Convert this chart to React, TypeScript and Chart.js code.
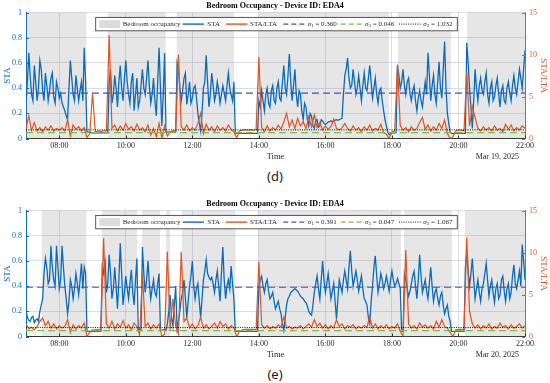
import React, { useEffect, useRef } from "react";
import { Chart, registerables } from "chart.js";

Chart.register(...registerables);

// ---------- data ----------
const START_HOUR = 7;
const END_HOUR = 22;
const STEP_MIN = 5;
const X_TICKS = [8, 10, 12, 14, 16, 18, 20, 22];
const STA_TICKS = [0, 0.2, 0.4, 0.6, 0.8, 1];
const RATIO_TICKS = [0, 5, 10, 15];

const TITLE = "Bedroom Occupancy - Device ID: EDA4";
const DATE_D = "Mar 19, 2025";
const DATE_E = "Mar 20, 2025";

// Panel (d): STA samples on the 5-minute marks, 07:00 .. 22:00
const staD = [
  0.28, 0.68, 0.35, 0.58, 0.30, 0.62, 0.38, 0.52, 0.30, 0.48, 0.33, 0.45,
  0.32, 0.28, 0.22, 0.15, 0.62, 0.35, 0.50, 0.30, 0.45, 0.72, 0.05, 0.05,
  0.045, 0.045, 0.045, 0.045, 0.045, 0.045, 0.45, 0.28, 0.50, 0.25, 0.58, 0.30,
  0.62, 0.35, 0.45, 0.22, 0.48, 0.30, 0.55, 0.35, 0.62, 0.28, 0.48, 0.18,
  0.72, 0.10, 0.68, 0.05, 0.05, 0.05, 0.05, 0.55, 0.30, 0.48, 0.27, 0.45,
  0.32, 0.42, 0.20, 0.06, 0.40, 0.66, 0.25, 0.52, 0.30, 0.45, 0.28, 0.42,
  0.30, 0.52, 0.35, 0.45, 0.04, 0.04, 0.04, 0.04, 0.04, 0.04, 0.04, 0.04,
  0.30, 0.38, 0.22, 0.40, 0.25, 0.42, 0.28, 0.45, 0.30, 0.58, 0.35, 0.67,
  0.30, 0.55, 0.25, 0.35, 0.15, 0.25, 0.10, 0.18, 0.08, 0.15, 0.10, 0.14,
  0.11, 0.13, 0.14, 0.14, 0.15, 0.15, 0.16, 0.50, 0.64, 0.40, 0.55, 0.35,
  0.50, 0.30, 0.52, 0.38, 0.58, 0.32, 0.48, 0.28, 0.40, 0.22, 0.10, 0.03,
  0.045, 0.045, 0.58, 0.40, 0.55, 0.35, 0.48, 0.30, 0.42, 0.22, 0.38, 0.25,
  0.45, 0.68, 0.30, 0.50, 0.28, 0.61, 0.32, 0.77, 0.20, 0.05, 0.04, 0.04,
  0.04, 0.04, 0.04, 0.76, 0.40, 0.08, 0.55, 0.30, 0.48, 0.35, 0.52, 0.28,
  0.45, 0.33, 0.48, 0.25, 0.42, 0.28, 0.45, 0.30, 0.50, 0.35, 0.55, 0.40,
  0.70,
];
// Panel (d): STA samples half-way between the 5-minute marks (07:02:30 ..)
const staMidD = [
  0.45, 0.50, 0.30, 0.45, 0.40, 0.55, 0.30, 0.42, 0.38, 0.52, 0.28, 0.40,
  0.36, 0.25, 0.18, 0.40, 0.48, 0.30, 0.40, 0.38, 0.30, 0.45, 0.05, 0.045,
  0.045, 0.045, 0.045, 0.045, 0.045, 0.045, 0.55, 0.35, 0.40, 0.45, 0.40, 0.48,
  0.45, 0.28, 0.52, 0.35, 0.25, 0.42, 0.40, 0.48, 0.42, 0.35, 0.30, 0.45,
  0.40, 0.35, 0.05, 0.05, 0.05, 0.05, 0.60, 0.40, 0.38, 0.52, 0.35, 0.28,
  0.40, 0.32, 0.12, 0.20, 0.45, 0.45, 0.35, 0.42, 0.35, 0.38, 0.35, 0.36,
  0.42, 0.40, 0.30, 0.04, 0.04, 0.04, 0.04, 0.04, 0.04, 0.04, 0.04, 0.04,
  0.25, 0.30, 0.35, 0.28, 0.38, 0.30, 0.40, 0.32, 0.45, 0.40, 0.50, 0.45,
  0.42, 0.35, 0.38, 0.22, 0.28, 0.15, 0.20, 0.10, 0.14, 0.09, 0.15, 0.12,
  0.12, 0.135, 0.13, 0.145, 0.145, 0.155, 0.35, 0.55, 0.48, 0.42, 0.45, 0.40,
  0.40, 0.42, 0.40, 0.48, 0.45, 0.40, 0.35, 0.38, 0.30, 0.15, 0.05, 0.04,
  0.045, 0.045, 0.50, 0.45, 0.42, 0.45, 0.36, 0.38, 0.30, 0.32, 0.30, 0.35,
  0.35, 0.50, 0.42, 0.35, 0.45, 0.40, 0.55, 0.40, 0.12, 0.04, 0.04, 0.04,
  0.04, 0.04, 0.04, 0.60, 0.25, 0.30, 0.40, 0.42, 0.38, 0.45, 0.35, 0.40,
  0.30, 0.42, 0.35, 0.38, 0.30, 0.40, 0.36, 0.42, 0.40, 0.45, 0.48, 0.55,
];
const ratioD = [
  1.2, 2.7, 1.0, 1.9, 0.9, 1.3, 0.8, 1.4, 1.0, 1.5, 0.9, 1.2,
  1.0, 1.3, 0.9, 2.2, 0.3, 1.6, 1.1, 1.4, 0.9, 1.3, 0.1, 0.6,
  5.4, 0.8, 0.9, 0.85, 0.9, 0.9, 12.3, 1.2, 1.6, 0.9, 1.5, 1.0,
  1.8, 1.1, 1.4, 0.9, 1.7, 1.0, 1.3, 0.8, 1.6, 0.4, 1.2, 0.2,
  1.8, 0.1, 1.5, 0.3, 0.8, 0.9, 0.9, 10.0, 1.4, 1.0, 1.6, 0.9,
  1.3, 1.0, 1.8, 3.0, 0.6, 1.7, 1.0, 1.4, 0.8, 1.5, 1.0, 1.3,
  0.9, 1.6, 1.1, 0.8, 0.05, 0.9, 1.0, 1.05, 1.0, 1.05, 1.0, 1.05,
  9.7, 1.3, 0.8, 1.5, 0.9, 1.3, 1.0, 1.6, 1.1, 2.0, 3.0, 1.4,
  2.2, 1.2, 2.4, 1.5, 2.0, 1.2, 2.6, 1.4, 2.8, 1.3, 1.9, 1.0,
  1.5, 1.1, 1.4, 2.3, 1.2, 1.0, 1.3, 1.8, 1.2, 0.9, 1.5, 1.0,
  1.3, 0.8, 1.4, 1.0, 1.6, 0.9, 1.2, 1.0, 1.7, 0.7, 0.5, 0.0,
  0.8, 0.9, 8.8, 1.5, 1.0, 1.3, 0.8, 1.4, 1.0, 1.2, 1.9, 2.5,
  1.1, 1.6, 0.9, 1.4, 1.0, 1.8, 1.2, 2.2, 0.6, 0.0, 0.2, 0.9,
  1.0, 1.0, 0.95, 8.0, 1.5, 3.8, 2.5, 1.2, 0.9, 1.4, 1.0, 1.3,
  0.9, 1.5, 1.0, 1.2, 0.8, 1.7, 1.1, 1.6, 0.9, 1.3, 1.0, 1.5,
  1.2,
];
const occStartD = [7.0, 9.46, 11.53, 14.0, 18.18, 20.26];
const occEndD = [8.82, 11.2, 13.25, 17.91, 19.77, 22.0];
const sigmasD = [0.36, 0.046, 1.032]; // sigma1, sigma3, sigma2

// Panel (e)
const staE = [
  0.21, 0.13, 0.15, 0.11, 0.14, 0.20, 0.30, 0.62, 0.42, 0.72, 0.45, 0.72,
  0.38, 0.72, 0.40, 0.18, 0.45, 0.30, 0.50, 0.33, 0.58, 0.55, 0.04, 0.04,
  0.04, 0.04, 0.04, 0.04, 0.50, 0.35, 0.65, 0.30, 0.55, 0.22, 0.74, 0.25,
  0.48, 0.30, 0.53, 0.25, 0.62, 0.06, 0.71, 0.35, 0.60, 0.30, 0.45, 0.32,
  0.50, 0.05, 0.06, 0.10, 0.33, 0.08, 0.40, 0.12, 0.30, 0.45, 0.15, 0.40,
  0.60, 0.30, 0.42, 0.15, 0.45, 0.61, 0.47, 0.47, 0.35, 0.52, 0.28, 0.71,
  0.30, 0.45, 0.56, 0.30, 0.04, 0.04, 0.04, 0.04, 0.04, 0.04, 0.04, 0.04,
  0.40, 0.48, 0.35, 0.45, 0.30, 0.35, 0.22, 0.28, 0.18, 0.05, 0.25, 0.32,
  0.36, 0.38, 0.36, 0.32, 0.30, 0.27, 0.20, 0.17, 0.35, 0.48, 0.30, 0.60,
  0.35, 0.50, 0.30, 0.42, 0.14, 0.45, 0.35, 0.52, 0.38, 0.68, 0.40, 0.52,
  0.36, 0.48, 0.30, 0.25, 0.10, 0.40, 0.64, 0.35, 0.50, 0.38, 0.48, 0.36,
  0.52, 0.40, 0.46, 0.38, 0.04, 0.45, 0.32, 0.42, 0.52, 0.30, 0.65, 0.35,
  0.45, 0.30, 0.55, 0.28, 0.38, 0.25, 0.35, 0.18, 0.25, 0.12, 0.04, 0.04,
  0.04, 0.04, 0.04, 0.68, 0.40, 0.62, 0.30, 0.45, 0.28, 0.42, 0.58, 0.32,
  0.45, 0.27, 0.42, 0.33, 0.48, 0.28, 0.42, 0.35, 0.57, 0.38, 0.52, 0.73,
  0.45,
];
const staMidE = [
  0.15, 0.12, 0.16, 0.13, 0.12, 0.25, 0.50, 0.55, 0.45, 0.55, 0.40, 0.55,
  0.45, 0.55, 0.30, 0.28, 0.40, 0.38, 0.42, 0.45, 0.38, 0.50, 0.04, 0.04,
  0.04, 0.04, 0.04, 0.55, 0.62, 0.42, 0.50, 0.38, 0.40, 0.45, 0.50, 0.35,
  0.38, 0.42, 0.35, 0.45, 0.05, 0.05, 0.50, 0.45, 0.42, 0.38, 0.35, 0.42,
  0.05, 0.05, 0.05, 0.20, 0.15, 0.25, 0.06, 0.20, 0.35, 0.30, 0.28, 0.48,
  0.40, 0.38, 0.28, 0.30, 0.52, 0.50, 0.45, 0.42, 0.45, 0.40, 0.50, 0.45,
  0.40, 0.38, 0.42, 0.04, 0.04, 0.04, 0.04, 0.04, 0.04, 0.04, 0.04, 0.04,
  0.45, 0.40, 0.42, 0.36, 0.32, 0.28, 0.25, 0.22, 0.10, 0.15, 0.30, 0.35,
  0.37, 0.37, 0.34, 0.31, 0.28, 0.24, 0.18, 0.25, 0.42, 0.38, 0.45, 0.45,
  0.42, 0.40, 0.36, 0.28, 0.30, 0.40, 0.45, 0.45, 0.55, 0.52, 0.46, 0.45,
  0.42, 0.38, 0.28, 0.15, 0.28, 0.55, 0.48, 0.42, 0.45, 0.42, 0.42, 0.45,
  0.45, 0.42, 0.42, 0.04, 0.50, 0.38, 0.36, 0.48, 0.40, 0.45, 0.48, 0.40,
  0.36, 0.42, 0.40, 0.35, 0.30, 0.32, 0.25, 0.22, 0.16, 0.04, 0.04, 0.04,
  0.04, 0.04, 0.55, 0.52, 0.50, 0.45, 0.38, 0.35, 0.38, 0.50, 0.45, 0.40,
  0.35, 0.38, 0.30, 0.45, 0.36, 0.38, 0.30, 0.48, 0.42, 0.45, 0.40, 0.60,
];
const ratioE = [
  1.5, 0.9, 1.1, 0.8, 1.2, 1.8, 2.2, 1.3, 1.8, 1.0, 1.5, 0.9,
  1.3, 1.0, 1.2, 2.0, 0.5, 1.4, 0.9, 1.3, 1.0, 1.6, 0.0, 0.5,
  0.8, 0.8, 0.85, 0.8, 11.7, 1.5, 1.0, 1.8, 0.9, 1.5, 1.1, 1.9,
  1.0, 1.4, 0.8, 1.6, 1.2, 0.1, 7.5, 1.2, 1.6, 0.9, 1.4, 1.0,
  1.5, 0.0, 0.3, 10.1, 0.8, 4.5, 1.2, 0.3, 10.1, 1.8, 2.2, 1.0,
  1.5, 0.9, 1.3, 2.3, 1.0, 1.4, 0.9, 1.2, 1.6, 1.0, 1.8, 1.2,
  1.5, 0.9, 1.3, 1.0, 0.0, 0.6, 0.8, 0.85, 0.85, 0.85, 0.85, 0.8,
  8.9, 1.4, 1.0, 1.3, 0.9, 1.2, 1.0, 1.4, 1.1, 2.3, 1.0, 1.2,
  0.9, 1.1, 1.0, 1.3, 0.9, 1.2, 1.5, 1.1, 2.0, 1.2, 1.6, 1.0,
  1.4, 0.9, 1.3, 1.0, 2.0, 1.2, 1.5, 0.9, 1.3, 1.1, 1.4, 0.9,
  1.2, 1.0, 1.3, 1.1, 2.4, 1.0, 1.5, 0.9, 1.3, 1.0, 1.4, 0.9,
  1.2, 1.0, 1.5, 0.6, 0.0, 10.3, 1.5, 1.0, 1.3, 0.9, 1.6, 1.1,
  1.4, 1.0, 1.3, 0.9, 1.8, 1.1, 2.0, 1.2, 1.0, 0.5, 0.0, 0.8,
  0.85, 0.85, 0.85, 11.8, 3.0, 1.5, 1.0, 1.4, 0.9, 1.3, 1.0, 1.5,
  0.9, 1.2, 1.0, 1.6, 1.1, 1.3, 0.9, 1.4, 1.0, 1.2, 1.5, 1.0,
  1.3,
];
const occStartE = [7.47, 9.28, 10.49, 11.21, 11.69, 13.98, 18.36, 20.19];
const occEndE = [8.82, 10.34, 11.03, 11.33, 13.3, 18.27, 19.8, 22.0];
const sigmasE = [0.391, 0.047, 1.067];

// ---------- styles ----------
const FONT = '"Liberation Serif", "Times New Roman", serif';
const BLUE = "#0A6CB8";
const ORANGE = "#DF5520";
const SIG1 = "#4D4DB0";
const SIG3 = "#77C043";
const GRID = "rgba(200,205,220,0.85)";
const BAND = "rgba(128,128,128,0.2)";

const hourAt = (i: number) => START_HOUR + (i * STEP_MIN) / 60;

const toPoints = (vals: number[]) => vals.map((v, i) => ({ x: hourAt(i), y: v }));

// merges the on-mark samples with the half-way samples
const toFinePoints = (vals: number[], mids: number[]) => {
  const out: { x: number; y: number }[] = [];
  vals.forEach((v, i) => {
    out.push({ x: hourAt(i), y: v });
    if (i < mids.length) out.push({ x: hourAt(i + 0.5), y: mids[i] });
  });
  return out;
};

const fmtHour = (h: number) => `${String(h).padStart(2, "0")}:00`;

function drawLegend(ctx: CanvasRenderingContext2D, a: any, sig: number[]) {
  const bx = a.left + 69.7;
  const by = a.top + 4.8;
  const bw = 361.6;
  const bh = 13.4;
  const cy = by + bh / 2;
  ctx.save();
  ctx.fillStyle = "#fff";
  ctx.fillRect(bx, by, bw, bh);
  ctx.strokeStyle = "#444";
  ctx.lineWidth = 0.9;
  ctx.strokeRect(bx, by, bw, bh);
  ctx.fillStyle = "#dcdcdc";
  ctx.fillRect(bx + 3.6, cy - 4, 20.7, 8);
  ctx.textBaseline = "middle";
  ctx.textAlign = "left";
  const text = (s: string, x: number) => {
    ctx.font = `7px ${FONT}`;
    ctx.fillStyle = "#262626";
    ctx.fillText(s, bx + x, cy);
  };
  const seg = (x0: number, x1: number, color: string, dash: number[], w: number) => {
    ctx.beginPath();
    ctx.setLineDash(dash);
    ctx.strokeStyle = color;
    ctx.lineWidth = w;
    ctx.moveTo(bx + x0, cy);
    ctx.lineTo(bx + x1, cy);
    ctx.stroke();
    ctx.setLineDash([]);
  };
  const sigma = (sub: string, val: number, x: number) => {
    let px = bx + x;
    ctx.fillStyle = "#262626";
    ctx.font = `italic 7px ${FONT}`;
    ctx.fillText("σ", px, cy);
    px += ctx.measureText("σ").width;
    ctx.font = `5px ${FONT}`;
    ctx.fillText(sub, px, cy + 2);
    px += ctx.measureText(sub).width;
    ctx.font = `7px ${FONT}`;
    ctx.fillText(` = ${val.toFixed(3)}`, px, cy);
  };
  text("Bedroom occupancy", 27);
  seg(87, 108.3, BLUE, [], 1.4);
  text("STA", 111.6);
  seg(130.3, 151.6, ORANGE, [], 1.4);
  text("STA/LTA", 154.3);
  seg(187.6, 211, SIG1, [5, 3], 1.1);
  sigma("1", sig[0], 212);
  seg(245, 268.6, SIG3, [5, 3], 1.1);
  sigma("3", sig[1], 269.3);
  seg(303.3, 325, "#111", [1, 1.3], 1);
  sigma("2", sig[2], 327.6);
  ctx.restore();
}

type PanelProps = {
  top: number;
  date: string;
  sta: number[];
  staMid: number[];
  ratio: number[];
  occStart: number[];
  occEnd: number[];
  sigmas: number[];
};

function Panel({ top, date, sta, staMid, ratio, occStart, occEnd, sigmas }: PanelProps) {
  const ref = useRef<HTMLCanvasElement>(null);
  useEffect(() => {
    if (!ref.current) return;
    const overlay = {
      id: "overlay",
      beforeDatasetsDraw(chart: any) {
        const { ctx, chartArea: a, scales } = chart;
        ctx.save();
        ctx.fillStyle = BAND;
        occStart.forEach((s, i) => {
          const x0 = scales.x.getPixelForValue(s);
          const x1 = scales.x.getPixelForValue(occEnd[i]);
          ctx.fillRect(x0, a.top, x1 - x0, a.bottom - a.top);
        });
        ctx.restore();
      },
      afterDatasetsDraw(chart: any) {
        const { ctx, chartArea: a, scales } = chart;
        ctx.save();
        ctx.lineWidth = 1;
        ctx.strokeStyle = "#333";
        X_TICKS.forEach((t) => {
          const px = Math.round(scales.x.getPixelForValue(t)) + 0.5;
          ctx.beginPath();
          ctx.moveTo(px, a.bottom);
          ctx.lineTo(px, a.bottom - 3);
          ctx.stroke();
        });
        ctx.strokeStyle = BLUE;
        STA_TICKS.forEach((t) => {
          const py = Math.round(scales.y.getPixelForValue(t)) + 0.5;
          ctx.beginPath();
          ctx.moveTo(a.left, py);
          ctx.lineTo(a.left + 3, py);
          ctx.stroke();
        });
        ctx.strokeStyle = ORANGE;
        RATIO_TICKS.forEach((t) => {
          const py = Math.round(scales.yR.getPixelForValue(t)) + 0.5;
          ctx.beginPath();
          ctx.moveTo(a.right, py);
          ctx.lineTo(a.right - 3, py);
          ctx.stroke();
        });
        ctx.restore();
        drawLegend(ctx, a, sigmas);
      },
      afterDraw(chart: any) {
        const { ctx, chartArea: a } = chart;
        ctx.save();
        ctx.font = `8px ${FONT}`;
        ctx.fillStyle = "#262626";
        ctx.textAlign = "right";
        ctx.textBaseline = "middle";
        ctx.fillText(date, a.right - 6, a.bottom + 18);
        ctx.restore();
      },
    };
    const flat = (v: number) => [
      { x: START_HOUR, y: v },
      { x: END_HOUR, y: v },
    ];
    const chart = new Chart(ref.current, {
      type: "line",
      data: {
        datasets: [
          { label: "σ1", data: flat(sigmas[0]), yAxisID: "y", borderColor: SIG1, borderDash: [7, 4], borderWidth: 1.2, pointRadius: 0, order: 0 },
          { label: "σ3", data: flat(sigmas[1]), yAxisID: "y", borderColor: SIG3, borderDash: [7, 4], borderWidth: 1.2, pointRadius: 0, order: 0 },
          { label: "σ2", data: flat(sigmas[2]), yAxisID: "yR", borderColor: "#111", borderDash: [1, 1.3], borderWidth: 1, pointRadius: 0, order: 0 },
          { label: "STA/LTA", data: toPoints(ratio), yAxisID: "yR", borderColor: ORANGE, borderWidth: 1.2, pointRadius: 0, order: 1 },
          { label: "STA", data: toFinePoints(sta, staMid), yAxisID: "y", borderColor: BLUE, borderWidth: 1.3, pointRadius: 0, order: 2 },
        ],
      } as any,
      options: {
        responsive: false,
        animation: false,
        layout: { padding: 0 },
        plugins: {
          legend: { display: false },
          tooltip: { enabled: false },
          title: {
            display: true,
            text: TITLE,
            color: "#000",
            font: { family: FONT, size: 8, weight: "bold" },
            padding: { top: 1, bottom: 2 },
          },
        },
        scales: {
          x: {
            type: "linear",
            min: START_HOUR,
            max: END_HOUR,
            afterBuildTicks: (s: any) => {
              s.ticks = X_TICKS.map((v) => ({ value: v }));
            },
            afterFit: (s: any) => {
              s.height = 24.5;
            },
            ticks: {
              callback: (v: any) => fmtHour(Number(v)),
              color: "#262626",
              font: { family: FONT, size: 8 },
              padding: 3,
              autoSkip: false,
              maxRotation: 0,
            },
            grid: { color: GRID, lineWidth: 0.8, drawTicks: false },
            border: { color: "#333", width: 1 },
            title: {
              display: true,
              text: "Time",
              color: "#262626",
              font: { family: FONT, size: 8.5 },
              padding: { top: 0, bottom: 1 },
            },
          },
          y: {
            position: "left",
            min: 0,
            max: 1,
            afterBuildTicks: (s: any) => {
              s.ticks = STA_TICKS.map((v) => ({ value: v }));
            },
            afterFit: (s: any) => {
              s.width = 26;
            },
            ticks: {
              callback: (v: any) => String(Math.round(Number(v) * 10) / 10),
              color: BLUE,
              font: { family: FONT, size: 8 },
              padding: 4,
            },
            grid: { color: GRID, lineWidth: 0.8, drawTicks: false },
            border: { color: BLUE, width: 1 },
            title: {
              display: true,
              text: "STA",
              color: BLUE,
              font: { family: FONT, size: 9 },
              padding: { top: 2, bottom: 0 },
            },
          },
          yR: {
            position: "right",
            min: 0,
            max: 15,
            afterBuildTicks: (s: any) => {
              s.ticks = RATIO_TICKS.map((v) => ({ value: v }));
            },
            afterFit: (s: any) => {
              s.width = 25;
            },
            ticks: {
              color: ORANGE,
              font: { family: FONT, size: 8 },
              padding: 4,
            },
            grid: { display: false, drawTicks: false },
            border: { color: ORANGE, width: 1 },
            title: {
              display: true,
              text: "STA/LTA",
              color: ORANGE,
              font: { family: FONT, size: 9 },
              padding: { top: 1.5, bottom: 0 },
            },
          },
        },
      } as any,
      plugins: [overlay],
    });
    return () => chart.destroy();
  }, []);
  return (
    <canvas
      ref={ref}
      width={550}
      height={163}
      style={{ position: "absolute", left: 0, top, width: 550, height: 163 }}
    />
  );
}

const labelStyle = (top: number): React.CSSProperties => ({
  position: "absolute",
  left: 0,
  top,
  width: 550,
  textAlign: "center",
  fontFamily: '"Noto Sans", "DejaVu Sans", sans-serif',
  fontSize: 13,
  lineHeight: "16px",
  color: "#1a1a1a",
});

export default function App() {
  return (
    <div
      style={{
        position: "absolute",
        left: 0,
        top: 0,
        width: 550,
        height: 383,
        background: "#fff",
        overflow: "hidden",
      }}
    >
      <Panel top={0} date={DATE_D} sta={staD} staMid={staMidD} ratio={ratioD} occStart={occStartD} occEnd={occEndD} sigmas={sigmasD} />
      <div style={labelStyle(168)}>(d)</div>
      <Panel top={198} date={DATE_E} sta={staE} staMid={staMidE} ratio={ratioE} occStart={occStartE} occEnd={occEndE} sigmas={sigmasE} />
      <div style={labelStyle(366)}>(e)</div>
    </div>
  );
}
